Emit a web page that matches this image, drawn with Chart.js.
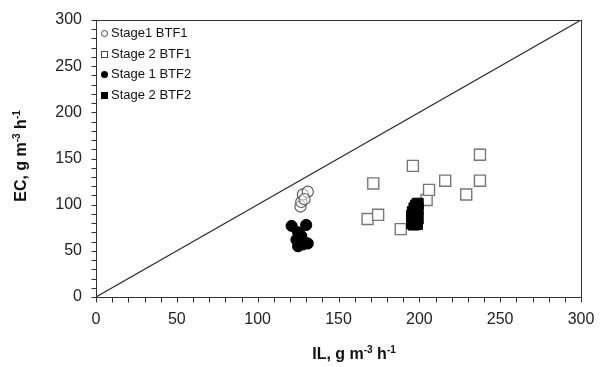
<!DOCTYPE html>
<html>
<head>
<meta charset="utf-8">
<script src="https://cdn.jsdelivr.net/npm/chart.js@4.4.0/dist/chart.umd.min.js"></script>
<style>
  html, body { margin: 0; padding: 0; background: #fff; }
  #wrap { position: relative; width: 603px; height: 367px; }
  #legend { position: absolute; left: 101px; top: 23px; font: 13px "Liberation Sans", Arial, sans-serif; color: #111; }
  #legend div { height: 20.7px; line-height: 20px; white-space: nowrap; }
  #legend span.m { display: inline-block; width: 7px; height: 7px; margin-right: 3px; box-sizing: border-box; }
</style>
</head>
<body>
<div id="wrap">
  <canvas id="chart" width="603" height="367"></canvas>
  <div id="legend"></div>
</div>
<script>
// axis ranges and ticks
var axisMin = 0;
var axisMax = 300;
var majorStep = 50;
var minorStep = 10;

// IL (x) and EC (y) for each series
var stage1Btf1IL = [126.5, 127, 128, 131, 129];
var stage1Btf1EC = [98, 103, 111, 114, 106];

var stage2Btf1IL = [168, 171.5, 174.5, 188.5, 196, 204.5, 206, 216, 229, 237.5, 237.5];
var stage2Btf1EC = [84.5, 123, 89, 73.5, 142, 105, 116, 126, 111, 126, 154];

var stage1Btf2IL = [121, 130, 125, 127, 124, 131, 125, 128];
var stage1Btf2EC = [77, 78, 70, 66, 62, 58, 55, 57];

var stage2Btf2IL = [195.5, 196, 195.5, 196, 197, 198, 199, 199, 198.5, 199, 198.5, 196.5];
var stage2Btf2EC = [80, 84, 88, 92, 96, 99, 101, 96, 90, 85, 79, 78.5];

var oneToOneIL = [0, 300];
var oneToOneEC = [0, 300];

var legendNames = ['Stage1 BTF1', 'Stage 2 BTF1', 'Stage 1 BTF2', 'Stage 2 BTF2'];

// axis titles, split so the unit powers can be raised
var xTitleParts = [['IL, g m', false], ['-3', true], [' h', false], ['-1', true]];
var yTitleParts = [['EC, g m', false], ['-3', true], [' h', false], ['-1', true]];

function toPoints(xs, ys){
	var pts = [];
	for(var i=0;i<xs.length;i++){
		pts.push({x: xs[i], y: ys[i]});
	}
	return pts;
}

var fontName = '"Liberation Sans", Arial, sans-serif';
var tickLen = 5;

function drawTitle(ctx, parts, cx, cy, rotate){
	var big = 'bold 16px ' + fontName;
	var small = 'bold 10px ' + fontName;
	var total = 0;
	for(var i=0;i<parts.length;i++){
		ctx.font = parts[i][1] ? small : big;
		total += ctx.measureText(parts[i][0]).width;
	}
	ctx.save();
	ctx.translate(cx, cy);
	if(rotate) ctx.rotate(-Math.PI / 2);
	ctx.fillStyle = '#111';
	ctx.textBaseline = 'middle';
	ctx.textAlign = 'left';
	var x = -total / 2;
	for(var j=0;j<parts.length;j++){
		ctx.font = parts[j][1] ? small : big;
		ctx.fillText(parts[j][0], x, parts[j][1] ? -5 : 0);
		x += ctx.measureText(parts[j][0]).width;
	}
	ctx.restore();
}

// box round the plot, outside tick marks and axis titles
var frameBox = {
	id: 'frameBox',
	afterDraw: function(chart){
		var a = chart.chartArea;
		var ctx = chart.ctx;
		var L = Math.round(a.left) + 0.5, T = Math.round(a.top) + 0.5;
		var R = Math.round(a.right) + 0.5, B = Math.round(a.bottom) + 0.5;
		ctx.save();
		ctx.strokeStyle = '#333';
		ctx.lineWidth = 1;
		ctx.strokeRect(L, T, R - L, B - T);
		ctx.beginPath();
		chart.scales.x.ticks.forEach(function(t){
			var px = Math.round(chart.scales.x.getPixelForValue(t.value)) + 0.5;
			ctx.moveTo(px, B);
			ctx.lineTo(px, B + tickLen);
		});
		chart.scales.y.ticks.forEach(function(t){
			var py = Math.round(chart.scales.y.getPixelForValue(t.value)) + 0.5;
			ctx.moveTo(L, py);
			ctx.lineTo(L - tickLen, py);
		});
		ctx.stroke();
		ctx.restore();
		drawTitle(ctx, xTitleParts, 354, 355, false);
		drawTitle(ctx, yTitleParts, 22, 156, true);
	}
};

function tickLabel(v){
	return (v % majorStep === 0) ? String(v) : '';
}

var scaleBase = function(){
	return {
		type: 'linear',
		min: axisMin,
		max: axisMax,
		ticks: {
			stepSize: minorStep,
			autoSkip: false,
			maxRotation: 0,
			color: '#222',
			font: { family: fontName, size: 16 },
			callback: tickLabel
		},
		grid: { display: false, drawTicks: false },
		border: { display: false }
	};
};

var xScale = scaleBase();
xScale.ticks.padding = tickLen + 8;
xScale.afterFit = function(s){
	s.height = 70;
	s.paddingLeft = 0;
	s.paddingRight = 0;
};

var yScale = scaleBase();
yScale.ticks.padding = tickLen + 9;
yScale.afterFit = function(s){
	s.width = 96;
	s.paddingTop = 0;
	s.paddingBottom = 0;
};

new Chart(document.getElementById('chart'), {
	type: 'scatter',
	data: {
		datasets: [
			{
				label: legendNames[3],
				data: toPoints(stage2Btf2IL, stage2Btf2EC),
				pointStyle: 'rect',
				pointRadius: 7.8,
				backgroundColor: '#000',
				borderColor: '#000',
				borderWidth: 1
			},
			{
				label: legendNames[2],
				data: toPoints(stage1Btf2IL, stage1Btf2EC),
				pointStyle: 'circle',
				pointRadius: 5.6,
				backgroundColor: '#000',
				borderColor: '#000',
				borderWidth: 1
			},
			{
				label: legendNames[1],
				data: toPoints(stage2Btf1IL, stage2Btf1EC),
				pointStyle: 'rect',
				pointRadius: 7.8,
				backgroundColor: '#fff',
				borderColor: '#777',
				borderWidth: 1.4
			},
			{
				label: legendNames[0],
				data: toPoints(stage1Btf1IL, stage1Btf1EC),
				pointStyle: 'circle',
				pointRadius: 5.6,
				backgroundColor: 'rgba(255,255,255,0.5)',
				borderColor: '#555',
				borderWidth: 1.1
			},
			{
				label: '1:1',
				data: toPoints(oneToOneIL, oneToOneEC),
				showLine: true,
				pointRadius: 0,
				borderColor: '#333',
				borderWidth: 1.2,
				fill: false
			}
		]
	},
	options: {
		responsive: false,
		animation: false,
		layout: { padding: { top: 20, right: 22, left: 0, bottom: 0 } },
		plugins: {
			legend: { display: false },
			tooltip: { enabled: false }
		},
		scales: { x: xScale, y: yScale }
	},
	plugins: [frameBox]
});

// legend inside the plot, top left
var legendMarks = [
	'border:1px solid #444;border-radius:50%;background:#fff;',
	'border:1px solid #444;background:#fff;',
	'background:#000;border-radius:50%;',
	'background:#000;'
];
var legendBox = document.getElementById('legend');
for(var i=0;i<legendNames.length;i++){
	var row = document.createElement('div');
	var mark = document.createElement('span');
	mark.className = 'm';
	mark.style.cssText = legendMarks[i];
	row.appendChild(mark);
	row.appendChild(document.createTextNode(legendNames[i]));
	legendBox.appendChild(row);
}
</script>
</body>
</html>
